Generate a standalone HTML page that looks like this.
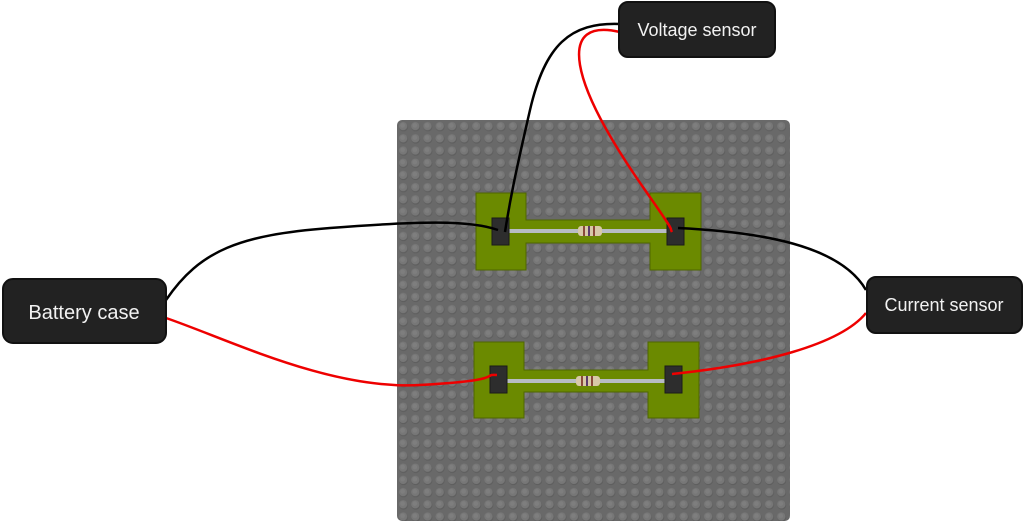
<!DOCTYPE html>
<html><head><style>
html,body{margin:0;padding:0;background:#fff;width:1024px;height:527px;overflow:hidden}
svg{display:block}
text{font-family:"Liberation Sans","DejaVu Sans",sans-serif;fill:#f2f2f2}
</style></head><body>
<svg width="1024" height="527" viewBox="0 0 1024 527" xmlns="http://www.w3.org/2000/svg">
<defs>
<pattern id="studs" x="397" y="120" width="12.2" height="12.2" patternUnits="userSpaceOnUse">
<rect width="12.2" height="12.2" fill="#696969"/>
<circle cx="6.5" cy="6.9" r="4.5" fill="#5e5e5e"/>
<circle cx="6.1" cy="6.1" r="4.2" fill="#777"/>
<circle cx="5.6" cy="5.4" r="2.3" fill="#7e7e7e"/>
</pattern>
</defs>
<rect x="397" y="120" width="393" height="401" rx="5" fill="url(#studs)"/>
<!-- top pcb -->
<path d="M476 193H526V220H650V193H701V270H650V243H526V270H476Z" fill="#6b8a00" stroke="#4f6600" stroke-width="1"/>
<rect x="509" y="229" width="158" height="4" fill="#b8bcc4"/>
<rect x="578" y="226" width="24" height="10" rx="3" fill="#d8c9a8"/>
<rect x="583" y="226" width="2" height="10" fill="#8a4a3a"/><rect x="588" y="226" width="2" height="10" fill="#5a3a6a"/><rect x="593" y="226" width="2" height="10" fill="#8a4a3a"/>
<rect x="492" y="218" width="17" height="27" fill="#2d2d2d" stroke="#1a1a1a"/>
<rect x="667" y="218" width="17" height="27" fill="#2d2d2d" stroke="#1a1a1a"/>
<!-- bottom pcb -->
<path d="M474 342H524V370H648V342H699V418H648V392H524V418H474Z" fill="#6b8a00" stroke="#4f6600" stroke-width="1"/>
<rect x="507" y="379" width="158" height="4" fill="#b8bcc4"/>
<rect x="576" y="376" width="24" height="10" rx="3" fill="#d8c9a8"/>
<rect x="581" y="376" width="2" height="10" fill="#8a4a3a"/><rect x="586" y="376" width="2" height="10" fill="#5a3a6a"/><rect x="591" y="376" width="2" height="10" fill="#8a4a3a"/>
<rect x="490" y="366" width="17" height="27" fill="#2d2d2d" stroke="#1a1a1a"/>
<rect x="665" y="366" width="17" height="27" fill="#2d2d2d" stroke="#1a1a1a"/>
<!-- wires -->
<g fill="none" stroke-width="2.5">
<path d="M166 300C200 250 240 235 330 228S470 220 498 230" stroke="#000"/>
<path d="M166 318C230 340 330 390 420 385S480 374 497 375" stroke="#e00"/>
<path d="M620 24C570 22 545 45 530 110S510 200 505 232" stroke="#000"/>
<path d="M620 32C590 25 575 35 580 65S610 140 645 190S668 225 672 232" stroke="#e00"/>
<path d="M678 228C760 232 840 245 866 290" stroke="#000"/>
<path d="M672 374C760 365 840 345 866 313" stroke="#e00"/>
</g>
<!-- boxes -->
<rect x="3" y="279" width="163" height="64" rx="10" fill="#222" stroke="#111" stroke-width="2"/>
<text x="84" y="319" font-size="20" text-anchor="middle">Battery case</text>
<rect x="619" y="2" width="156" height="55" rx="9" fill="#222" stroke="#111" stroke-width="2"/>
<text x="697" y="36" font-size="18" text-anchor="middle">Voltage sensor</text>
<rect x="867" y="277" width="155" height="56" rx="9" fill="#222" stroke="#111" stroke-width="2"/>
<text x="944" y="311" font-size="18" text-anchor="middle">Current sensor</text>
</svg>
</body></html>
